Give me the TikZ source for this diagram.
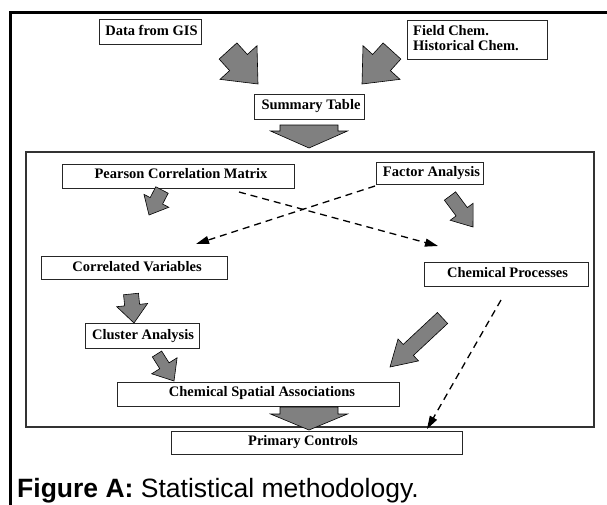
\documentclass[tikz,border=0pt]{standalone}
\usepackage{fontspec}
\setmainfont{Liberation Serif}
\newfontfamily\capfont{Liberation Sans}
\usetikzlibrary{calc,arrows.meta}
\newcommand\blockarr[5]{%
  \coordinate (ba-h) at ($(#2)!#5!(#1)$);
  \filldraw[barrow] ($(#1)!#3!90:(#2)$) -- ($(ba-h)!#3!90:(#2)$) -- ($(ba-h)!#4!90:(#2)$) -- (#2) -- ($(ba-h)!#4!-90:(#2)$) -- ($(ba-h)!#3!-90:(#2)$) -- ($(#1)!#3!-90:(#2)$) -- cycle;}
\begin{document}
\begin{tikzpicture}[x=1pt,y=-1pt,
  box/.style={draw=black!85, line width=0.9pt, fill=white, inner sep=0pt},
  lbl/.style={font=\fontsize{14.5}{15}\selectfont\bfseries, anchor=base, inner sep=0pt},
  lbll/.style={lbl, anchor=base west},
  barrow/.style={fill=black!50, draw=black, line width=0.6pt, line join=miter},
  dashline/.style={line width=1.3pt, dash pattern=on 7pt off 5pt, -{Triangle[length=13pt,width=8pt]}}]
\useasboundingbox (0,0) rectangle (607,504);
\clip (0,0) rectangle (607,504);
\fill[white] (0,0) rectangle (607,504);
% outer frame
\draw[line width=2.7pt] (10.5,620) -- (10.5,12.5) -- (620,12.5);
% inner frame
\draw[draw=black!80, line width=1.1pt] (26,152) rectangle (594,427);

% boxes
\node[box, minimum width=102pt, minimum height=25pt] (gis) at (150,31.5) {};
\node[lbl] (gist) at (151.5,35.3) {Data from GIS};
\node[box, minimum width=140pt, minimum height=39pt] (field) at (477,39.5) {};
\node[lbll] (fieldt1) at (413,35) {Field Chem.};
\node[lbll] (fieldt2) at (413,50) {Historical Chem.};
\node[box, minimum width=110pt, minimum height=25pt] (sum) at (309,106.5) {};
\node[lbl] (sumt) at (311,109) {Summary Table};
\node[box, minimum width=232pt, minimum height=24pt] (pcm) at (178,176) {};
\node[lbl] (pcmt) at (181,178.7) {Pearson Correlation Matrix};
\node[box, minimum width=107pt, minimum height=22pt] (fa) at (429.5,173) {};
\node[lbl] (fat) at (431.5,176) {Factor Analysis};
\node[box, minimum width=186pt, minimum height=23pt] (cv) at (134,267.5) {};
\node[lbl] (cvt) at (137,271) {Correlated Variables};
\node[box, minimum width=164pt, minimum height=24pt] (cp) at (506,274) {};
\node[lbl] (cpt) at (507.5,277.3) {Chemical Processes};
\node[box, minimum width=114pt, minimum height=25pt] (ca) at (142,335.5) {};
\node[lbl] (cat) at (143,339) {Cluster Analysis};
\node[box, minimum width=282pt, minimum height=24pt] (csa) at (258,394) {};
\node[lbl] (csat) at (262,396.7) {Chemical Spatial Associations};
\node[box, minimum width=291pt, minimum height=23pt] (pc) at (316.5,442.5) {};
\node[lbl] (pct) at (303,445) {Primary Controls};

% block arrow end points
\coordinate (a1s) at (228,51);   \coordinate (a1e) at (258,84);
\coordinate (a2s) at (392,51);   \coordinate (a2e) at (362,84);
\coordinate (a3s) at (309,125);  \coordinate (a3e) at (309,148);
\coordinate (a4s) at (162,190);  \coordinate (a4e) at (149,215);
\coordinate (a5s) at (450,196);  \coordinate (a5e) at (473,227);
\coordinate (a6s) at (131,294);  \coordinate (a6e) at (134,323);
\coordinate (a7s) at (157,354);  \coordinate (a7e) at (174,381);
\coordinate (a8s) at (442.5,318);\coordinate (a8e) at (390,367);
\coordinate (a9s) at (309,407);  \coordinate (a9e) at (309,430);

\blockarr{a1s}{a1e}{12pt}{25pt}{29pt}
\blockarr{a2s}{a2e}{12pt}{25pt}{29pt}
\blockarr{a3s}{a3e}{29pt}{38.5pt}{17pt}
\blockarr{a4s}{a4e}{7pt}{14pt}{16pt}
\blockarr{a5s}{a5e}{7pt}{14.3pt}{19pt}
\blockarr{a6s}{a6e}{7.5pt}{15.5pt}{18pt}
\blockarr{a7s}{a7e}{5.5pt}{15pt}{18pt}
\blockarr{a8s}{a8e}{7.5pt}{15pt}{25pt}
\blockarr{a9s}{a9e}{29pt}{38.5pt}{16pt}

% dashed connectors
\coordinate (d1s) at (239,192);  \coordinate (d1e) at (438,246);
\coordinate (d2s) at (375,186);  \coordinate (d2e) at (196,244);
\coordinate (d3s) at (501,300);  \coordinate (d3e) at (427,429);
\draw[dashline] (d1s) -- (d1e);
\draw[dashline] (d2s) -- (d2e);
\draw[dashline] (d3s) -- (d3e);

% caption
\node[anchor=base west, inner sep=0pt, font=\capfont\fontsize{26.5}{30}\selectfont] (cap) at (17,497.5) {\textbf{Figure A:} Statistical methodology.};
\end{tikzpicture}
\end{document}
